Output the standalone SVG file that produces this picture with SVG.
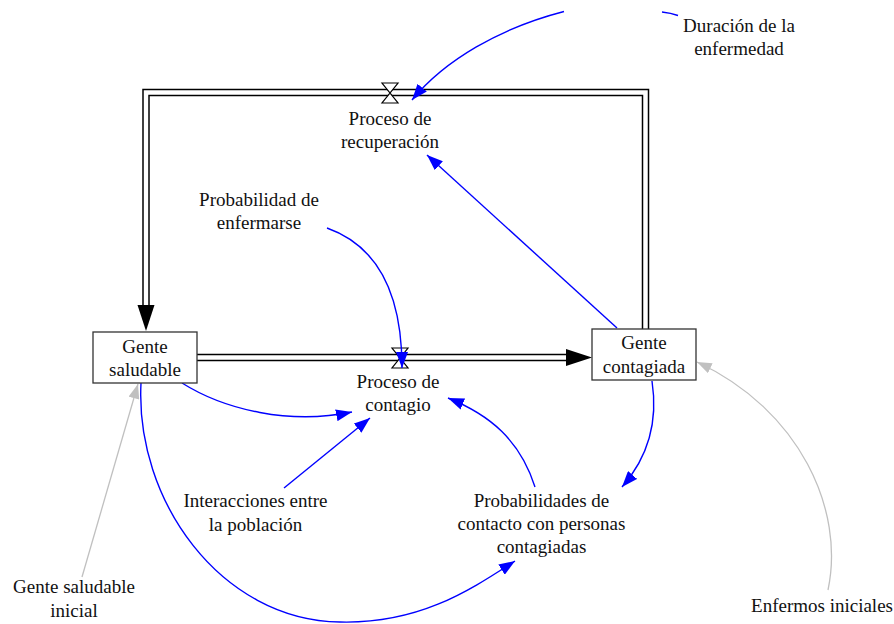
<svg xmlns="http://www.w3.org/2000/svg" width="894" height="624" viewBox="0 0 894 624">
<style>
text{font-family:"Liberation Serif","DejaVu Serif",serif;font-size:19px;fill:#111;text-anchor:middle}
.box{fill:#fff;stroke:#333;stroke-width:1.3}
.pipeO{fill:none;stroke:#000;stroke-width:7.5}
.pipeI{fill:none;stroke:#fff;stroke-width:4.5}
.valve{fill:#fff;stroke:#000;stroke-width:1.2}
.link{fill:none;stroke:#0000ff;stroke-width:1.4}
.glink{fill:none;stroke:#c0c0c0;stroke-width:1.3}
</style>
<defs>
<marker id="ab" viewBox="0 0 16 12" refX="16" refY="6" markerWidth="16" markerHeight="12" markerUnits="userSpaceOnUse" orient="auto"><path d="M0,0 L16,6 L0,12 Z" fill="#0000ff"/></marker>
<marker id="ag" viewBox="0 0 16 12" refX="16" refY="6" markerWidth="15" markerHeight="11" markerUnits="userSpaceOnUse" orient="auto"><path d="M0,0 L16,6 L0,12 Z" fill="#c0c0c0"/></marker>
</defs>
<g id="flows">
<path class="pipeO" d="M645.5,329 V92.5 H146 V306"/>
<path class="pipeI" d="M645.5,331 V92.5 H146 V307"/>
<path d="M137.5,305 L154.5,305 L146,331 Z" fill="#000"/>
<path class="pipeO" d="M197,357.5 H567"/>
<path class="pipeI" d="M195,357.5 H567"/>
<path d="M566,349 L592,357.5 L566,366 Z" fill="#000"/>
<polygon class="valve" points="382,83 398,83 382,103 398,103"/>
<polygon class="valve" points="392,348 408,348 392,368 408,368"/>
</g>
<g id="connectors">
<path class="link" marker-end="url(#ab)" d="M678,15.5 Q671,13 662,12 M564,11.5 C500,28 445,60 412,100"/>
<path class="link" marker-end="url(#ab)" d="M617,328 L427,155"/>
<path class="link" marker-end="url(#ab)" d="M327,228 C375,245 402,290 402,368"/>
<path class="link" marker-end="url(#ab)" d="M182,383 C225,410 290,425 352,412"/>
<path class="link" marker-end="url(#ab)" d="M284,488 L370,418"/>
<path class="link" marker-end="url(#ab)" d="M535,487 C520,440 490,415 448,398"/>
<path class="link" marker-end="url(#ab)" d="M652,381 C658,420 650,455 622,487"/>
<path class="link" marker-end="url(#ab)" d="M141,383 C135,500 220,620 340,622 C420,624 470,590 515,561"/>
<path class="glink" marker-end="url(#ag)" d="M82,577 L138,384"/>
<path class="glink" marker-end="url(#ag)" d="M828,590 C845,510 800,410 697,362"/>
</g>
<g font-family="Liberation Serif, DejaVu Serif, serif">
<g id="gente-saludable">
<rect class="box" x="93" y="332" width="104" height="51"/>
<text x="145" y="353">Gente</text>
<text x="145" y="376">saludable</text>
</g>
<g id="gente-contagiada">
<rect class="box" x="592" y="329" width="104" height="51"/>
<text x="644" y="349">Gente</text>
<text x="644" y="373">contagiada</text>
</g>
<g id="proceso-recuperacion">
<text x="390" y="125">Proceso de</text>
<text x="390" y="148">recuperación</text>
</g>
<g id="proceso-contagio">
<text x="398" y="388">Proceso de</text>
<text x="398" y="411">contagio</text>
</g>
<g id="duracion">
<text x="739" y="32">Duración de la</text>
<text x="739" y="55">enfermedad</text>
</g>
<g id="probabilidad-enfermarse">
<text x="259" y="206">Probabilidad de</text>
<text x="259" y="229">enfermarse</text>
</g>
<g id="interacciones">
<text x="255.5" y="507">Interacciones entre</text>
<text x="255.5" y="531">la población</text>
</g>
<g id="probabilidades-contacto">
<text x="541.5" y="507">Probabilidades de</text>
<text x="541.5" y="530">contacto con personas</text>
<text x="541.5" y="553">contagiadas</text>
</g>
<g id="gente-saludable-inicial">
<text x="74" y="593">Gente saludable</text>
<text x="74" y="617">inicial</text>
</g>
<g id="enfermos-iniciales">
<text x="822" y="612">Enfermos iniciales</text>
</g>
</g>
</svg>
